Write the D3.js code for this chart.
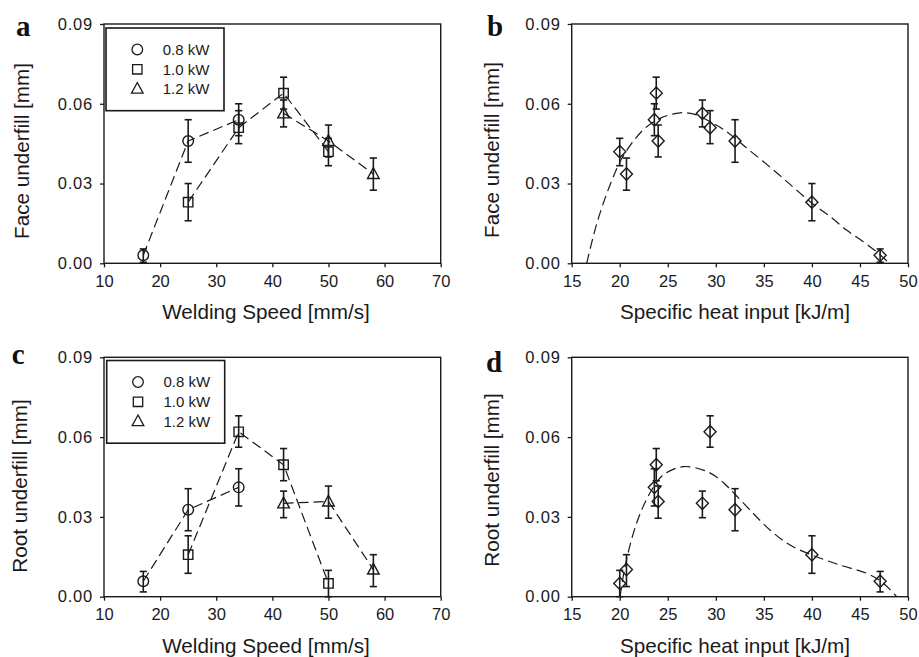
<!DOCTYPE html>
<html><head><meta charset="utf-8">
<script src="https://cdn.jsdelivr.net/npm/d3@7"></script>
<style>body{margin:0;background:#fff}svg{display:block}</style>
</head><body>
<script>
// ---------------- data ----------------
const powerLabels = ["0.8 kW", "1.0 kW", "1.2 kW"];

const speed08 = [17, 25, 34];
const speed10 = [25, 34, 42, 50];
const speed12 = [42, 50, 58];

const heat08 = [47.1, 32.0, 23.6];
const heat10 = [40.0, 29.4, 23.8, 20.0];
const heat12 = [28.6, 24.0, 20.7];

// Face underfill [mm] with error-bar bounds
const face08 = [0.003, 0.046, 0.054];
const face08Lo = [0.0004, 0.038, 0.048];
const face08Hi = [0.0054, 0.054, 0.060];
const face10 = [0.023, 0.051, 0.064, 0.042];
const face10Lo = [0.016, 0.045, 0.058, 0.0367];
const face10Hi = [0.030, 0.0574, 0.070, 0.047];
const face12 = [0.0564, 0.046, 0.0336];
const face12Lo = [0.0513, 0.040, 0.0275];
const face12Hi = [0.0614, 0.052, 0.0396];

// Root underfill [mm] with error-bar bounds
const root08 = [0.0058, 0.0327, 0.0411];
const root08Lo = [0.0018, 0.0248, 0.0341];
const root08Hi = [0.0095, 0.0406, 0.0481];
const root10 = [0.0158, 0.062, 0.0496, 0.005];
const root10Lo = [0.0088, 0.0562, 0.0436, 0.0];
const root10Hi = [0.0229, 0.068, 0.0557, 0.0099];
const root12 = [0.0351, 0.0358, 0.0102];
const root12Lo = [0.0297, 0.0295, 0.0038];
const root12Hi = [0.0397, 0.0416, 0.0158];

// fitted trend curves
const faceFitX = [16.56, 17.42, 18.29, 19.16, 20.03, 21.24, 22.63, 24.19, 26.3, 28.0, 29.5, 30.6, 31.8, 33.5, 36.0, 38.0, 40.0, 42.0, 43.6, 45.35, 46.9, 48.06];
const faceFitY = [0, 0.0125, 0.0226, 0.031, 0.0382, 0.0451, 0.0508, 0.0545, 0.0566, 0.0558, 0.053, 0.0508, 0.0476, 0.0425, 0.0351, 0.0288, 0.0226, 0.0173, 0.0125, 0.0081, 0.0038, 0];
const rootFitX = [20.03, 20.55, 21.41, 22.28, 23.33, 24.53, 26.61, 28.7, 30.0, 31.1, 32.0, 33.55, 35.63, 37.72, 39.98, 42.92, 45.7, 47.26, 48.82];
const rootFitY = [0, 0.0113, 0.0238, 0.0326, 0.0401, 0.0458, 0.0489, 0.0476, 0.0452, 0.0418, 0.0385, 0.0326, 0.0251, 0.0194, 0.0157, 0.0119, 0.0088, 0.0056, 0];

const speedTicks = [10, 20, 30, 40, 50, 60, 70];
const heatTicks = [15, 20, 25, 30, 35, 40, 45, 50];
const underfillTicks = [0, 0.03, 0.06, 0.09];

// ---------------- drawing ----------------
const W = 919, H = 657;
const INK = "#1a1a1a";
const FONT = "'Liberation Sans', Arial, Helvetica, sans-serif";
const svg = d3.select("body").append("svg").attr("width", W).attr("height", H)
  .style("background", "#fff");

const shapes = {
  circle: "M5.3,0A5.3,5.3 0 1,1 -5.3,0A5.3,5.3 0 1,1 5.3,0Z",
  square: "M-4.7,-4.7H4.7V4.7H-4.7Z",
  triangle: "M0,-6.2L5.8,4.5L-5.8,4.5Z",
  diamond: "M0,-6.2L6,0L0,6.2L-6,0Z"
};

function makeSeries(xs, ys, lo, hi) {
  return xs.map((x, i) => ({ x, y: ys[i], lo: lo[i], hi: hi[i] }));
}

function drawPanel(cfg) {
  const g = svg.append("g");
  const x = d3.scaleLinear().domain(cfg.xDomain).range([cfg.left, cfg.right]);
  const y = d3.scaleLinear().domain([0, 0.09]).range([cfg.bottom, cfg.top]);

  const clipId = "clip" + cfg.letter;
  svg.append("clipPath").attr("id", clipId).append("rect")
    .attr("x", cfg.left).attr("y", cfg.top)
    .attr("width", cfg.right - cfg.left).attr("height", cfg.bottom - cfg.top);

  // axes
  const xa = g.append("g").attr("transform", `translate(0,${cfg.bottom})`)
    .call(d3.axisBottom(x).tickValues(cfg.xTicks).tickFormat(d3.format("d"))
      .tickSize(4).tickSizeOuter(0).tickPadding(8));
  const ya = g.append("g").attr("transform", `translate(${cfg.left},0)`)
    .call(d3.axisLeft(y).tickValues(underfillTicks).tickFormat(d3.format(".2f"))
      .tickSize(4).tickSizeOuter(0).tickPadding(7));
  [xa, ya].forEach(a => {
    a.select(".domain").remove();
    a.selectAll("line").attr("stroke", INK).attr("stroke-width", 1.3);
    a.selectAll("text").attr("fill", INK).style("font-family", FONT).style("font-size", "16.5px");
  });
  ya.selectAll("text").style("letter-spacing", "0.8px");

  // frame
  g.append("rect").attr("x", cfg.left).attr("y", cfg.top)
    .attr("width", cfg.right - cfg.left).attr("height", cfg.bottom - cfg.top)
    .attr("fill", "none").attr("stroke", INK).attr("stroke-width", 1.4);

  // titles
  g.append("text").attr("x", cfg.xTitleX).attr("y", cfg.bottom + 56)
    .attr("text-anchor", "middle").attr("fill", INK)
    .style("font-family", FONT).style("font-size", "20.7px").text(cfg.xTitle);
  g.append("text").attr("transform", `translate(${cfg.yTitleX},${cfg.yTitleY}) rotate(-90)`)
    .attr("text-anchor", "middle").attr("fill", INK)
    .style("font-family", FONT).style("font-size", "20.7px").text(cfg.yTitle);
  g.append("text").attr("x", cfg.letterX).attr("y", cfg.letterY)
    .attr("fill", "#111").style("font-family", "'Liberation Serif', 'Times New Roman', serif")
    .style("font-weight", "bold").style("font-size", "29px").text(cfg.letter);

  const plot = g.append("g").attr("clip-path", `url(#${clipId})`);

  // connecting / fit lines
  const line = d3.line().x(d => x(d.x)).y(d => y(d.y));
  cfg.lines.forEach(l => {
    plot.append("path").datum(l.pts)
      .attr("d", l.smooth ? line.curve(d3.curveCatmullRom.alpha(0.5))(l.pts) : d3.line().x(d => x(d.x)).y(d => y(d.y))(l.pts))
      .attr("fill", "none").attr("stroke", INK).attr("stroke-width", 1.2)
      .attr("stroke-dasharray", "10,5");
  });

  // error bars + markers
  cfg.series.forEach(s => {
    const eg = g.append("g");
    s.data.forEach(d => {
      const cx = x(d.x);
      eg.append("line").attr("x1", cx).attr("x2", cx).attr("y1", y(d.lo)).attr("y2", y(d.hi))
        .attr("stroke", INK).attr("stroke-width", 1.6);
      [d.lo, d.hi].forEach(v => {
        eg.append("line").attr("x1", cx - 3.6).attr("x2", cx + 3.6).attr("y1", y(v)).attr("y2", y(v))
          .attr("stroke", INK).attr("stroke-width", 1.6);
      });
    });
    g.append("g").selectAll("path").data(s.data).join("path")
      .attr("transform", d => `translate(${x(d.x)},${y(d.y)})`)
      .attr("d", shapes[s.shape]).attr("fill", "none")
      .attr("stroke", INK).attr("stroke-width", 1.4);
  });

  // legend
  if (cfg.legend) {
    const lg = g.append("g").attr("transform", `translate(${cfg.legend.x},${cfg.legend.y})`);
    lg.append("rect").attr("width", 118).attr("height", 82.7)
      .attr("fill", "#fff").attr("stroke", INK).attr("stroke-width", 1.6);
    const rowY = [21.5, 41.3, 60.7];
    const lshapes = ["circle", "square", "triangle"];
    powerLabels.forEach((lab, i) => {
      lg.append("path").attr("transform", `translate(31.3,${rowY[i]})`)
        .attr("d", shapes[lshapes[i]]).attr("fill", "none").attr("stroke", INK).attr("stroke-width", 1.3);
      lg.append("text").attr("x", 56.7).attr("y", rowY[i]).attr("dy", "0.36em")
        .attr("fill", INK).style("font-family", FONT).style("font-size", "15px").text(lab);
    });
  }
}

const S08f = makeSeries(speed08, face08, face08Lo, face08Hi);
const S10f = makeSeries(speed10, face10, face10Lo, face10Hi);
const S12f = makeSeries(speed12, face12, face12Lo, face12Hi);
const S08r = makeSeries(speed08, root08, root08Lo, root08Hi);
const S10r = makeSeries(speed10, root10, root10Lo, root10Hi);
const S12r = makeSeries(speed12, root12, root12Lo, root12Hi);

const H08f = makeSeries(heat08, face08, face08Lo, face08Hi);
const H10f = makeSeries(heat10, face10, face10Lo, face10Hi);
const H12f = makeSeries(heat12, face12, face12Lo, face12Hi);
const H08r = makeSeries(heat08, root08, root08Lo, root08Hi);
const H10r = makeSeries(heat10, root10, root10Lo, root10Hi);
const H12r = makeSeries(heat12, root12, root12Lo, root12Hi);

const faceFit = faceFitX.map((v, i) => ({ x: v, y: faceFitY[i] }));
const rootFit = rootFitX.map((v, i) => ({ x: v, y: rootFitY[i] }));

const L = { left: 104, right: 440.7 }, R = { left: 571.7, right: 908 };
const T = { top: 24, bottom: 263.3 }, B = { top: 357.3, bottom: 596.7 };

drawPanel(Object.assign({}, L, T, {
  letter: "a", letterX: 16, letterY: 36,
  xDomain: [10, 70], xTicks: speedTicks, xTitle: "Welding Speed [mm/s]", xTitleX: 266,
  yTitle: "Face underfill [mm]", yTitleX: 28.5, yTitleY: 151,
  lines: [{ pts: S08f }, { pts: S10f }, { pts: S12f }],
  series: [{ data: S08f, shape: "circle" }, { data: S10f, shape: "square" }, { data: S12f, shape: "triangle" }],
  legend: { x: 106, y: 28 }
}));
drawPanel(Object.assign({}, R, T, {
  letter: "b", letterX: 487, letterY: 36,
  xDomain: [15, 50], xTicks: heatTicks, xTitle: "Specific heat input [kJ/m]", xTitleX: 735,
  yTitle: "Face underfill [mm]", yTitleX: 499, yTitleY: 150,
  lines: [{ pts: faceFit, smooth: true }],
  series: [{ data: H08f.concat(H10f, H12f), shape: "diamond" }]
}));
drawPanel(Object.assign({}, L, B, {
  letter: "c", letterX: 11.7, letterY: 364,
  xDomain: [10, 70], xTicks: speedTicks, xTitle: "Welding Speed [mm/s]", xTitleX: 266,
  yTitle: "Root underfill [mm]", yTitleX: 27, yTitleY: 486,
  lines: [{ pts: S08r }, { pts: S10r }, { pts: S12r }],
  series: [{ data: S08r, shape: "circle" }, { data: S10r, shape: "square" }, { data: S12r, shape: "triangle" }],
  legend: { x: 106.7, y: 360.5 }
}));
drawPanel(Object.assign({}, R, B, {
  letter: "d", letterX: 486, letterY: 372,
  xDomain: [15, 50], xTicks: heatTicks, xTitle: "Specific heat input [kJ/m]", xTitleX: 735,
  yTitle: "Root underfill [mm]", yTitleX: 499, yTitleY: 480,
  lines: [{ pts: rootFit, smooth: true }],
  series: [{ data: H08r.concat(H10r, H12r), shape: "diamond" }]
}));
</script>
</body></html>
